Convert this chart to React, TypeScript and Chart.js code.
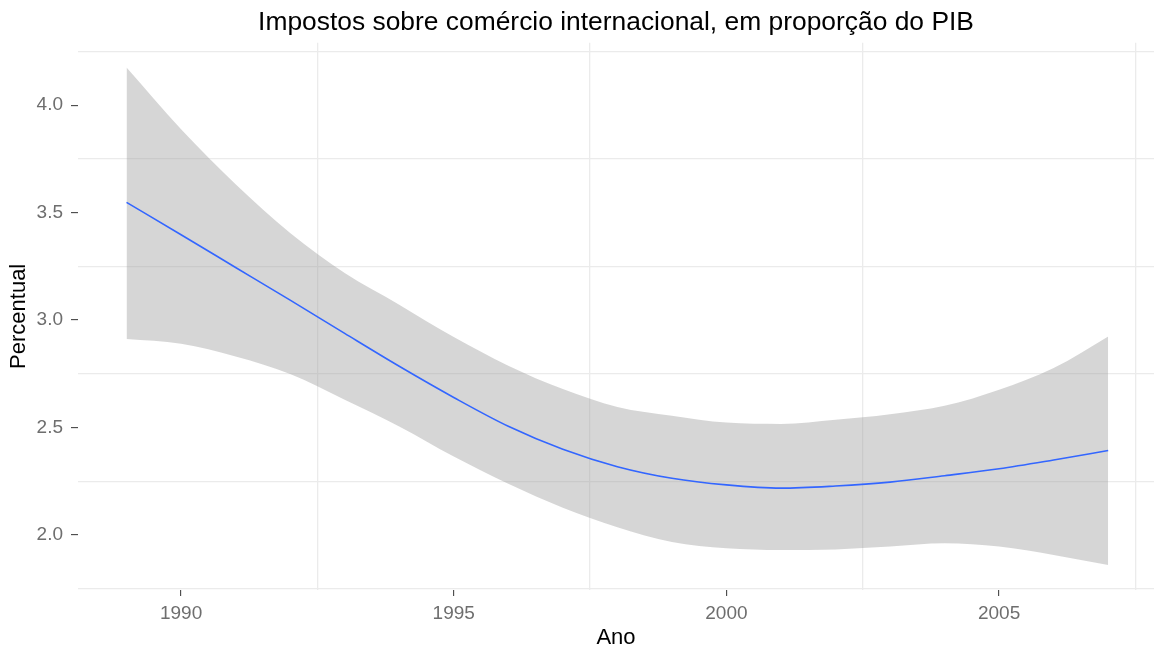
import React, { useEffect, useRef } from "react";
import { Chart, registerables } from "chart.js";

Chart.register(...registerables);

const years = [1989, 1990, 1991, 1992, 1993, 1994, 1995, 1996, 1997, 1998, 1999, 2000, 2001, 2002, 2003, 2004, 2005, 2006, 2007];
const fitValues = [3.548, 3.397, 3.245, 3.093, 2.938, 2.785, 2.640, 2.506, 2.399, 2.318, 2.264, 2.233, 2.218, 2.228, 2.246, 2.276, 2.308, 2.349, 2.393];
const upperValues = [4.175, 3.888, 3.632, 3.405, 3.219, 3.072, 2.921, 2.788, 2.679, 2.596, 2.555, 2.523, 2.517, 2.536, 2.562, 2.601, 2.676, 2.777, 2.924];
const lowerValues = [2.912, 2.890, 2.831, 2.749, 2.629, 2.505, 2.365, 2.238, 2.127, 2.036, 1.967, 1.938, 1.930, 1.933, 1.946, 1.961, 1.946, 1.907, 1.860];

const xMajorTicks = [1990, 1995, 2000, 2005];
const xTickLabels = ["1990", "1995", "2000", "2005"];
const xMinorTicks = [1992.5, 1997.5, 2002.5, 2007.5];
const yMajorTicks = [2.0, 2.5, 3.0, 3.5, 4.0];
const yTickLabels = ["2.0", "2.5", "3.0", "3.5", "4.0"];
const yMinorTicks = [1.75, 2.25, 2.75, 3.25, 3.75, 4.25];

const chartTitle = "Impostos sobre comércio internacional, em proporção do PIB";
const xTitle = "Ano";
const yTitle = "Percentual";

const FONT = "'Liberation Sans', Arial, sans-serif";
const GRID = "#ebebeb";
const TICK_MARK = "#333333";
const TICK_TEXT = "#6e6e6e";
const NONE = "rgba(0,0,0,0)";

const idxOf = (list: number[], v: number) => list.findIndex((m) => Math.abs(m - v) < 1e-6);

export default function App() {
  const canvasRef = useRef<HTMLCanvasElement | null>(null);

  useEffect(() => {
    const canvas = canvasRef.current;
    if (!canvas) return;
    const toPoints = (vals: number[]) => years.map((x, i) => ({ x, y: vals[i] }));
    const chart = new Chart(canvas, {
      type: "line",
      data: {
        datasets: [
          {
            label: "fit",
            data: toPoints(fitValues),
            borderColor: "#3366FF",
            borderWidth: 1.6,
            pointRadius: 0,
            fill: false,
            cubicInterpolationMode: "monotone",
            order: 0,
          },
          {
            label: "upper",
            data: toPoints(upperValues),
            borderColor: NONE,
            borderWidth: 0,
            backgroundColor: "rgba(153,153,153,0.4)",
            pointRadius: 0,
            fill: "+1",
            cubicInterpolationMode: "monotone",
            order: 1,
          },
          {
            label: "lower",
            data: toPoints(lowerValues),
            borderColor: NONE,
            borderWidth: 0,
            pointRadius: 0,
            fill: false,
            cubicInterpolationMode: "monotone",
            order: 2,
          },
        ],
      },
      options: {
        animation: false,
        responsive: false,
        devicePixelRatio: 1,
        layout: { padding: { left: 0, right: 0, top: 0, bottom: 0 } },
        plugins: {
          legend: { display: false },
          tooltip: { enabled: false },
          title: {
            display: true,
            fullSize: false,
            text: chartTitle,
            color: "#000000",
            font: { family: FONT, size: 26.4, weight: "normal" },
            padding: { top: 7, bottom: 4 },
          },
        },
        scales: {
          x: {
            type: "linear",
            min: 1988.11,
            max: 2007.84,
            afterBuildTicks: (s: any) => {
              s.ticks = [...xMajorTicks, ...xMinorTicks].sort((a, b) => a - b).map((v) => ({ value: v }));
            },
            afterFit: (s: any) => {
              s.height = 61;
            },
            border: { display: false },
            grid: {
              color: (ctx: any) => (ctx.tick && idxOf(xMinorTicks, ctx.tick.value) >= 0 ? GRID : NONE),
              lineWidth: 1.3,
              tickColor: (ctx: any) => (ctx.tick && idxOf(xMajorTicks, ctx.tick.value) >= 0 ? TICK_MARK : NONE),
              tickLength: 6,
              tickWidth: 1,
            },
            ticks: {
              autoSkip: false,
              maxRotation: 0,
              padding: 6,
              color: TICK_TEXT,
              font: { family: FONT, size: 19 },
              callback: (v: any) => {
                const i = idxOf(xMajorTicks, Number(v));
                return i >= 0 ? xTickLabels[i] : "";
              },
            },
            title: {
              display: true,
              text: xTitle,
              color: "#000000",
              font: { family: FONT, size: 22 },
              padding: { top: 0, bottom: 0 },
            },
          },
          y: {
            type: "linear",
            min: 1.744,
            max: 4.291,
            afterBuildTicks: (s: any) => {
              s.ticks = [...yMajorTicks, ...yMinorTicks].sort((a, b) => a - b).map((v) => ({ value: v }));
            },
            afterFit: (s: any) => {
              s.width = 78;
            },
            border: { display: false },
            grid: {
              color: (ctx: any) => (ctx.tick && idxOf(yMinorTicks, ctx.tick.value) >= 0 ? GRID : NONE),
              lineWidth: 1.3,
              tickColor: (ctx: any) => (ctx.tick && idxOf(yMajorTicks, ctx.tick.value) >= 0 ? TICK_MARK : NONE),
              tickLength: 7,
              tickWidth: 1,
            },
            ticks: {
              autoSkip: false,
              padding: 8,
              color: TICK_TEXT,
              font: { family: FONT, size: 19 },
              callback: (v: any) => {
                const i = idxOf(yMajorTicks, Number(v));
                return i >= 0 ? yTickLabels[i] : "";
              },
            },
            title: {
              display: true,
              text: yTitle,
              color: "#000000",
              font: { family: FONT, size: 22 },
              padding: { top: 6, bottom: 0 },
            },
          },
        },
      },
    } as any);
    return () => chart.destroy();
  }, []);

  return (
    <div style={{ position: "fixed", left: 0, top: 0, width: 1154, height: 651, background: "#ffffff" }}>
      <canvas ref={canvasRef} width={1154} height={651} style={{ display: "block" }} />
    </div>
  );
}
